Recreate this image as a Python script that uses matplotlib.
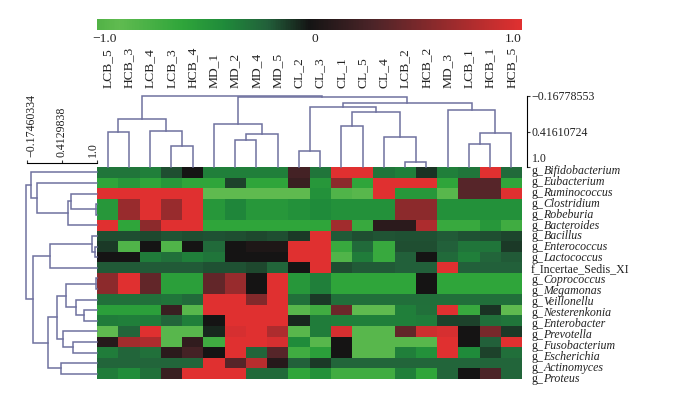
import matplotlib
matplotlib.use("Agg")
import matplotlib.pyplot as plt
from matplotlib.colors import LinearSegmentedColormap, Normalize
from matplotlib.cm import ScalarMappable

plt.rcParams['font.family'] = ['Liberation Serif', 'DejaVu Serif']

samples = ["LCB_5","HCB_3","LCB_4","LCB_3","HCB_4","MD_1","MD_2","MD_4","MD_5","CL_2",
           "CL_3","CL_1","CL_5","CL_4","LCB_2","HCB_2","MD_3","LCB_1","HCB_1","HCB_5"]
taxa = ["g_Bifidobacterium","g_Eubacterium","g_Ruminococcus","g_Clostridium","g_Robeburia",
        "g_Bacteroides","g_Bacillus","g_Enterococcus","g_Lactococcus","f_Incertae_Sedis_XI",
        "g_Coprococcus","g_Megamonas","g_Veillonellu","g_Nesterenkonia","g_Enterobacter",
        "g_Prevotella","g_Fusobacterium","g_Escherichia","g_Actinomyces","g_Proteus"]

r00 = [-.3,-.3,-.35,-.15,0,-.35,-.35,-.35,-.35,.25,-.3,1,1,-.3,-.35,-.08,-.35,-.3,1,-.25]
r01 = [-.6,-.5,-.6,-.5,-.6,-.6,-.12,-.6,-.6,.2,-.5,.6,-.6,1,1,1,-.6,.35,.35,-.6]
r02 = [1,1,1,1,1,-.9,-.9,-.9,-.9,-.9,-.45,-.8,-.85,1,-.5,-.5,-.85,.35,.35,1]
r03 = [-.5,.65,1,.65,1,-.5,-.38,-.5,-.5,-.45,-.4,-.45,-.45,-.45,.6,.6,-.45,-.45,-.45,-.45]
r04 = [-.5,.65,1,.65,1,-.5,-.38,-.5,-.5,-.45,-.4,-.45,-.45,-.45,.6,.6,-.45,-.45,-.45,-.45]
r05 = [1,-.6,.6,1,1,-.6,-.6,-.6,-.6,-.6,-.6,.7,-.65,.12,.12,.75,-.65,-.65,-.5,-.7]
r06 = [-.15,-.15,-.14,-.17,-.15,-.16,-.15,-.14,-.15,-.1,1,-.18,-.15,-.17,-.16,-.16,-.18,-.16,-.15,-.13]
r07 = [-.1,-.8,0,-.8,0,-.25,0,.05,.05,1,1,-.65,-.25,-.65,-.15,-.15,-.2,-.3,-.3,-.1]
r08 = [0,0,-.33,-.28,-.35,-.3,0,0,0,1,1,-.8,-.33,-.65,-.2,0,-.25,-.35,-.22,-.18]
r09 = [-.18,-.18,-.18,-.18,-.18,-.16,-.16,-.14,-.22,0,1,-.15,-.18,-.18,-.2,-.2,1,-.2,-.2,-.2]
r10 = [.6,1,.4,-.55,-.55,.4,.65,0,1,-.5,-.35,-.6,-.6,-.6,-.6,0,-.6,-.6,-.6,-.6]
r11 = [.6,1,.4,-.55,-.55,.4,.65,0,1,-.5,-.35,-.6,-.6,-.6,-.6,0,-.6,-.6,-.6,-.6]
r12 = [-.28,-.28,-.28,-.3,-.25,1,1,.55,1,-.28,-.1,-.27,-.27,-.27,-.27,-.27,-.27,-.27,-.27,-.27]
r13 = [-.55,-.55,-.55,.2,-.85,1,1,1,1,-.85,-.7,.45,-.9,-.9,-.35,-.28,1,-.65,-.08,-.9]
r14 = [-.33,-.35,-.33,-.22,-.35,0,1,1,1,-.05,-.33,-.35,-.35,-.35,-.35,-.33,-.12,-.12,-.27,-.3]
r15 = [-.9,-.22,1,-.85,-.85,-.05,.95,1,.75,-.85,-.33,.95,-.85,-.85,.4,.9,.95,0,.5,-.1]
r16 = [.1,.7,.75,-.85,.15,-.7,1,1,.95,-.4,-.85,0,-.85,-.85,-.85,-.85,1,0,-.2,1]
r17 = [-.33,-.22,-.28,.12,.25,0,1,-.22,.35,-.7,-.55,0,-.85,-.85,-.35,-.45,1,-.4,-.12,-.27]
r18 = [-.22,-.22,-.22,-.22,-.22,1,.35,.8,.1,-.2,-.1,-.22,-.22,-.22,-.22,-.22,-.22,-.22,-.22,-.22]
r19 = [-.33,-.42,-.28,.2,1,1,1,-.25,-.25,-.6,-.45,-.7,-.7,-.7,-.35,-.6,-.22,0,.3,-.22]
matrix = [r00,r01,r02,r03,r04,r05,r06,r07,r08,r09,r10,r11,r12,r13,r14,r15,r16,r17,r18,r19]

# merges: (child_a, child_b, height); children >= n are earlier merges (n + index)
col_merges = [
    (0,1,.429),(3,4,.654),(2,21,.403),(20,22,.205),
    (6,7,.556),(24,8,.457),(5,25,.298),
    (9,10,.732),(11,12,.325),(14,15,.918),(13,29,.511),(28,30,.09),(27,31,.018),
    (17,18,.622),(33,19,.436),(16,34,.062),(32,35,-.058),(26,36,-.146),(23,37,-.172),
]
row_merges = [
    (3,4,.98),(2,20,.564),(21,5,.524),(1,22,-.007),(0,23,-.102),
    (7,8,.966),(6,25,.926),(26,9,.211),
    (10,11,.98),(13,14,.787),(12,29,.648),(28,30,.48),
    (16,17,.607),(15,32,.44),(31,33,.329),(18,19,.396),(34,35,.178),
    (27,36,-.063),(24,37,-.18),
]
col_ticks = [-0.16778553, 0.41610724, 1.0]
row_ticks = [-0.17460334, 0.4129838, 1.0]

W, H = 700, 394
def rect(x0, y0, x1, y1):
    return [x0/W, 1-y1/H, (x1-x0)/W, (y1-y0)/H]

LINE = '#6f719f'
INK = '#222222'
FS = 9.7
SCALE_FS = 8.6
TAXON_FS = 8.6

cmap = LinearSegmentedColormap.from_list('gbr', [
    (0.00, '#52b246'), (0.05, '#60bb50'), (0.20, '#2fa53a'), (0.30, '#1f8a3a'),
    (0.40, '#22603a'), (0.50, '#141414'), (0.65, '#4c2428'), (0.80, '#8c2a2c'), (1.00, '#e03030')])
norm = Normalize(-1, 1)

fig = plt.figure(figsize=(7, 3.94), dpi=100, facecolor='white')
n = len(samples)
m = len(taxa)

def ftext(x, y, s, **kw):
    fig.text(x/W, 1-y/H, s, color=INK, **kw)

# heatmap
ax = fig.add_axes(rect(97, 167, 522, 379))
ax.pcolormesh(range(n+1), range(m+1), matrix, cmap=cmap, norm=norm, edgecolors='none')
ax.set_xlim(0, n); ax.set_ylim(m, 0)
ax.set_xticks([]); ax.set_yticks([])
for s in ax.spines.values():
    s.set_visible(False)

# taxon labels: the baselines run a little longer than the rows (y=173.7 to y=382)
for i, t in enumerate(taxa):
    yb = 173.7 + i * 208.3 / (m - 1)
    if t.startswith('g_'):
        ftext(531, yb, 'g_', fontsize=TAXON_FS, ha='left', va='baseline')
        ftext(543.5, yb, t[2:], fontsize=TAXON_FS, style='italic', ha='left', va='baseline')
    else:
        ftext(531, yb, t, fontsize=TAXON_FS, ha='left', va='baseline')

def dendro(merges, nleaf):
    """Return line segments for a dendrogram from a merge list."""
    pos = {i: (i+.5, 1.0) for i in range(nleaf)}
    segs = []
    for k, (a, b, h) in enumerate(merges):
        pa, ha = pos[a]; pb, hb = pos[b]
        segs.append(([pa, pa, pb, pb], [ha, h, h, hb]))
        pos[nleaf+k] = ((pa+pb)/2, h)
    return segs

# column dendrogram (height grows upward, -0.168 at top)
axt = fig.add_axes(rect(97, 96, 522, 167))
for p, h in dendro(col_merges, n):
    axt.plot(p, h, color=LINE, lw=1.1, solid_joinstyle='miter', clip_on=False)
axt.set_xlim(0, n); axt.set_ylim(1.0, col_ticks[0])
axt.axis('off')

# column dendrogram scale
axs = fig.add_axes(rect(526.5, 96, 527, 167))
axs.set_ylim(1.0, col_ticks[0])
axs.set_xticks([])
axs.yaxis.tick_right()
axs.set_yticks(col_ticks)
axs.set_yticklabels([])
axs.tick_params(axis='y', length=2.5, width=.8, color='#333333')
for k in ('top', 'bottom', 'left'):
    axs.spines[k].set_visible(False)
axs.spines['right'].set_linewidth(.8)
for txt, yp in zip(['\u22120.16778553', '0.41610724', '1.0'], [97, 133.5, 159]):
    ftext(531.5, yp, txt, fontsize=SCALE_FS, va='center', ha='left')

# row dendrogram
axl = fig.add_axes(rect(26.7, 167, 96.7, 379))
for p, h in dendro(row_merges, m):
    axl.plot(h, p, color=LINE, lw=1.1, solid_joinstyle='miter', clip_on=False)
axl.set_ylim(m, 0); axl.set_xlim(row_ticks[0], 1.0)
axl.axis('off')

# row dendrogram scale
axr = fig.add_axes(rect(26.7, 162.5, 96.7, 163))
axr.set_xlim(row_ticks[0], 1.0)
axr.set_yticks([])
axr.xaxis.tick_top()
axr.set_xticks(row_ticks)
axr.set_xticklabels([])
axr.tick_params(axis='x', length=2.5, width=.8, color='#333333')
for k in ('left', 'right', 'bottom'):
    axr.spines[k].set_visible(False)
axr.spines['top'].set_linewidth(.8)
for txt, xp in zip(['\u22120.17460334', '0.4129838', '1.0'], [31.5, 61.5, 92.5]):
    ftext(xp, 157, txt, fontsize=SCALE_FS, rotation=90, ha='center', va='bottom')

# colour bar
cax = fig.add_axes(rect(97, 19, 522, 29.5))
cb = fig.colorbar(ScalarMappable(norm=norm, cmap=cmap), cax=cax, orientation='horizontal')
cb.outline.set_visible(False)
cb.set_ticks([])
for txt, xp in zip(['\u22121.0', '0', '1.0'], [104.5, 315, 513.5]):
    ftext(xp, 39, txt, fontsize=FS, ha='center', va='center')

# sample labels
for i, s in enumerate(samples):
    ftext(97+(i+.5)*425/n, 88, s, rotation=90, ha='center', va='bottom', fontsize=FS)

fig.savefig('out.png', dpi=100, facecolor='white')
